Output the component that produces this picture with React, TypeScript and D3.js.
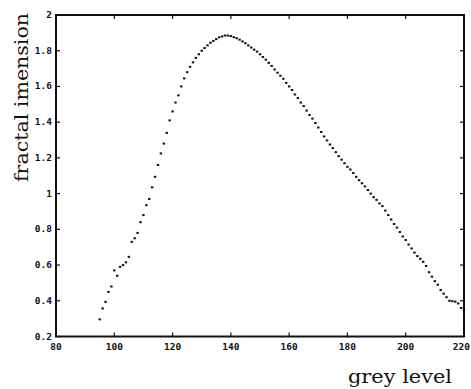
import React from "react";
import * as d3 from "d3";

const greyLevels: number[] = d3.range(95, 221);
const fractalDim: number[] = [
  0.296, 0.357, 0.394, 0.45, 0.48, 0.57, 0.54, 0.59, 0.60, 0.615,
  0.646, 0.73, 0.75, 0.78, 0.84, 0.88, 0.935, 0.97, 1.035, 1.094,
  1.16, 1.225, 1.28, 1.34, 1.41, 1.46, 1.51, 1.55, 1.60, 1.645,
  1.68, 1.71, 1.735, 1.76, 1.78, 1.80, 1.815, 1.83, 1.845, 1.855,
  1.865, 1.875, 1.88, 1.885, 1.885, 1.882, 1.876, 1.87, 1.862, 1.852,
  1.842, 1.83, 1.818, 1.806, 1.795, 1.78, 1.765, 1.75, 1.732, 1.715,
  1.695, 1.677, 1.66, 1.643, 1.62, 1.60, 1.58, 1.555, 1.535, 1.51,
  1.49, 1.465, 1.44, 1.42, 1.395, 1.37, 1.345, 1.32, 1.298, 1.275,
  1.255, 1.232, 1.21, 1.19, 1.17, 1.15, 1.135, 1.115, 1.094, 1.075,
  1.058, 1.04, 1.02, 1.0, 0.98, 0.965, 0.945, 0.93, 0.905, 0.88,
  0.855, 0.83, 0.81, 0.785, 0.76, 0.74, 0.715, 0.693, 0.67, 0.65,
  0.635, 0.618, 0.595, 0.56, 0.535, 0.51, 0.49, 0.46, 0.44, 0.42,
  0.40, 0.398, 0.395, 0.385, 0.36, 0.35,
];
const xTicks: number[] = [80, 100, 120, 140, 160, 180, 200, 220];
const yTicks: number[] = [0.2, 0.4, 0.6, 0.8, 1, 1.2, 1.4, 1.6, 1.8, 2];
const yTickLabels: string[] = ["0.2", "0.4", "0.6", "0.8", "1", "1.2", "1.4", "1.6", "1.8", "2"];
const xLabel = "grey level";
const yLabel = "fractal imension";

export default function App() {
  const W = 471, H = 389;
  const L = 56, R = 464, T = 15, B = 336.5;
  const x = d3.scaleLinear().domain([80, 220]).range([L, R]);
  const y = d3.scaleLinear().domain([0.2, 2]).range([B, T]);
  const tickFont = { fontFamily: "'DejaVu Sans Mono', monospace", fontWeight: 700, fontSize: 9.5, fill: "#111" } as const;
  const tk = 4;
  return (
    <svg width={W} height={H} style={{ position: "absolute", left: 0, top: 0, background: "#fff" }}>
      <rect x={0} y={0} width={W} height={H} fill="#fff" />
      {greyLevels.map((g, i) => (
        <rect key={i} x={x(g) - 1.2} y={y(fractalDim[i]) - 1} width={2.4} height={2} fill="#111" />
      ))}
      <rect x={L} y={T} width={R - L} height={B - T} fill="none" stroke="#111" strokeWidth={2} />
      {xTicks.map((t, i) => {
        const last = i === xTicks.length - 1;
        return (
          <g key={"x" + t}>
            <line x1={x(t)} x2={x(t)} y1={B} y2={B - tk} stroke="#111" strokeWidth={1.2} />
            <line x1={x(t)} x2={x(t)} y1={T} y2={T + tk} stroke="#111" strokeWidth={1.2} />
            <text x={last ? W - 1 : x(t)} y={349.5} textAnchor={last ? "end" : "middle"} {...tickFont}>{t}</text>
          </g>
        );
      })}
      {yTicks.map((t, i) => (
        <g key={"y" + t}>
          <line x1={L} x2={L + tk} y1={y(t)} y2={y(t)} stroke="#111" strokeWidth={1.2} />
          <line x1={R} x2={R - tk} y1={y(t)} y2={y(t)} stroke="#111" strokeWidth={1.2} />
          <text x={52} y={y(t) + 3} textAnchor="end" {...tickFont}>{yTickLabels[i]}</text>
        </g>
      ))}
      <text x={348} y={383} fontFamily="'DejaVu Serif', serif" fontSize={18} textLength={104} lengthAdjust="spacingAndGlyphs" fill="#111">{xLabel}</text>
      <text transform={`translate(28, ${(13 + 182) / 2}) rotate(-90)`} textAnchor="middle" fontFamily="'DejaVu Serif', serif" fontSize={19} textLength={169} lengthAdjust="spacingAndGlyphs" fill="#111">{yLabel}</text>
    </svg>
  );
}
